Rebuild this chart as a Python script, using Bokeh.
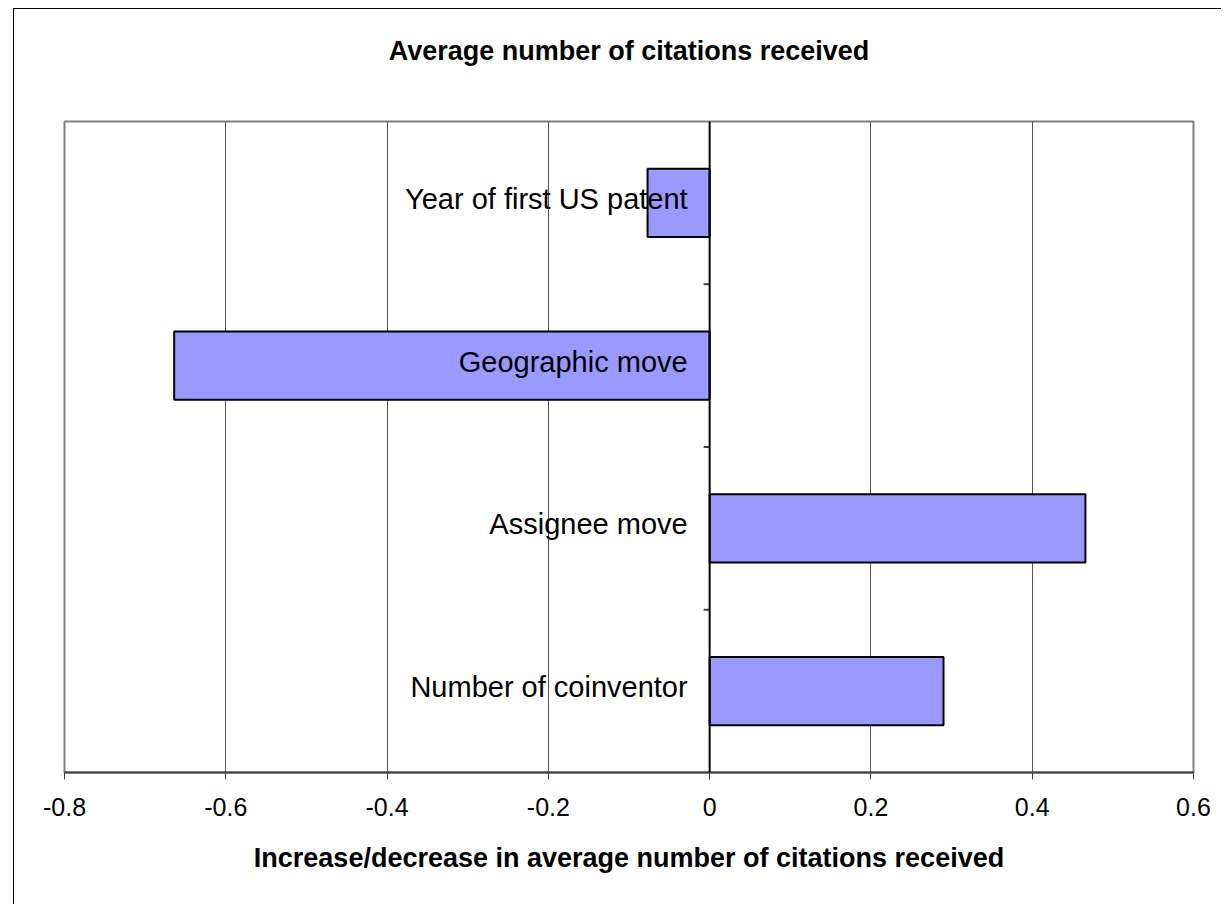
from bokeh.plotting import figure
from bokeh.models import Range1d, FactorRange, FixedTicker, NumeralTickFormatter, Span
from bokeh.core.properties import value
from bokeh.embed import file_html
from bokeh.resources import INLINE

# Data (bottom to top)
categories = ["Number of coinventor", "Assignee move", "Geographic move", "Year of first US patent"]
values = [0.29, 0.466, -0.664, -0.077]
x_ticks = [-0.8, -0.6, -0.4, -0.2, 0, 0.2, 0.4, 0.6]
boundaries = [1, 2, 3]
title_text = "Average number of citations received"
x_title = "Increase/decrease in average number of citations received"

FONT = "Liberation Sans"

p = figure(width=1208, height=896, output_backend="svg", toolbar_location=None,
           x_range=Range1d(-0.8, 0.6), y_range=FactorRange(factors=categories, range_padding=0),
           min_border_left=50, min_border_right=29, min_border_top=112, min_border_bottom=133)

# outer chart frame (only top and left edges are visible in the reference)
p.styles = {"border-top": "1px solid #000000", "border-left": "1px solid #000000",
            "margin-left": "13px", "margin-top": "8px"}

p.title.text = title_text
p.title.align = "center"
p.title.vertical_align = "top"
p.title.text_font = FONT
p.title.text_font_size = "27px"
p.title.text_font_style = "bold"
p.title.text_color = "black"
p.title.standoff = 0
p.title.padding = dict(left=0, right=0, top=0, bottom=54)

p.background_fill_color = "white"
p.border_fill_color = "white"
p.outline_line_color = "#808080"
p.outline_line_width = 2

# x axis
xa = p.xaxis[0]
xa.ticker = FixedTicker(ticks=x_ticks)
xa.formatter = NumeralTickFormatter(format="0.[0]")
xa.major_label_text_font = FONT
xa.major_label_text_font_size = "25px"
xa.major_label_text_color = "black"
xa.major_label_standoff = 18
xa.axis_line_color = "#404040"
xa.axis_line_width = 2
xa.major_tick_line_color = "#404040"
xa.major_tick_line_width = 1
xa.major_tick_out = 7
xa.major_tick_in = 0
xa.minor_tick_line_color = None
xa.axis_label = x_title
xa.axis_label_text_font = FONT
xa.axis_label_text_font_size = "27px"
xa.axis_label_text_font_style = "bold"
xa.axis_label_text_color = "black"
xa.axis_label_standoff = 24

p.yaxis.visible = False
p.ygrid.visible = False
p.xgrid.grid_line_color = "#555555"
p.xgrid.grid_line_width = 1
p.xgrid.ticker = FixedTicker(ticks=x_ticks)

# bars
p.hbar(y=categories, left=0, right=values, height=0.42,
       fill_color="#9999FF", line_color="black", line_width=2)

# zero axis line
p.add_layout(Span(location=0, dimension="height", line_color="black", line_width=2))

# category tick marks on zero axis
p.ray(x=[0] * len(boundaries), y=boundaries, length=6, length_units="screen",
      angle=3.14159265, line_color="#404040", line_width=2)

# category labels
p.text(x=[0] * len(categories), y=categories, text=categories, x_offset=-22, y_offset=-4,
       text_align="right", text_baseline="middle", text_font=value(FONT),
       text_font_size="29px", text_color="black")

open("out.html", "w").write(file_html(p, INLINE))
